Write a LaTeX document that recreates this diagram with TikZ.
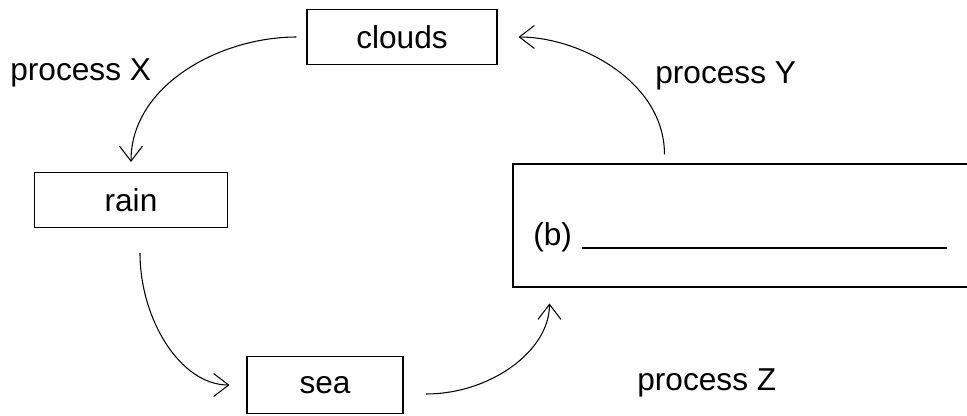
\documentclass[tikz,border=0pt]{standalone}
\usepackage{fontspec}
\setmainfont{Liberation Sans}
\usetikzlibrary{arrows.meta}

\begin{document}
\begin{tikzpicture}[
                font=\fontsize{18}{21}\selectfont,
                stage/.style={draw=black, line width=0.6pt, inner sep=0pt,
                              minimum height=1.1cm},
                lbl/.style={anchor=base west, inner sep=0pt},
                arr/.style={-{Straight Barb[length=3mm, width=4.6mm]}, line width=0.6pt}
            ]
                \useasboundingbox (0,0) rectangle (19.34,8.3);
                \node[stage, minimum width=3.8cm] (clouds) at (8.04,7.56) {clouds};
                \node[stage, minimum width=3.86cm] (rain) at (2.62,4.3) {rain};
                \node[stage, minimum width=3.12cm, minimum height=1.14cm] (sea) at (6.5,0.6) {sea};
                \node[stage, minimum width=9.24cm, minimum height=2.46cm] (ans) at (14.88,3.79) {};
                \node[lbl] (blank) at (10.66,3.4)
                    {(b)\hspace{0.2cm}\rule[-2.5pt]{7.3cm}{1.6pt}};
                \node[lbl] (px) at (0.2,6.7) {process X};
                \node[lbl] (py) at (13.1,6.64) {process Y};
                \node[lbl] (pz) at (12.74,0.5) {process Z};
                \draw[arr, shorten <=0.2cm, shorten >=0.2cm]
                    (clouds.west) to[out=180, in=90] (rain.north);
                \draw[arr, shorten >=0.34cm]
                    ([shift={(0.18,-0.5)}]rain.south) to[out=-90, in=180] (sea.west);
                \draw[arr, shorten >=0.32cm]
                    ([shift={(0.45,-0.18)}]sea.east) to[out=0, in=-90] ([xshift=0.74cm]ans.south west);
                \draw[arr, shorten <=0.18cm, shorten >=0.42cm]
                    ([xshift=3.04cm]ans.north west) to[out=90, in=0] (clouds.east);
            \end{tikzpicture}
\end{document}
